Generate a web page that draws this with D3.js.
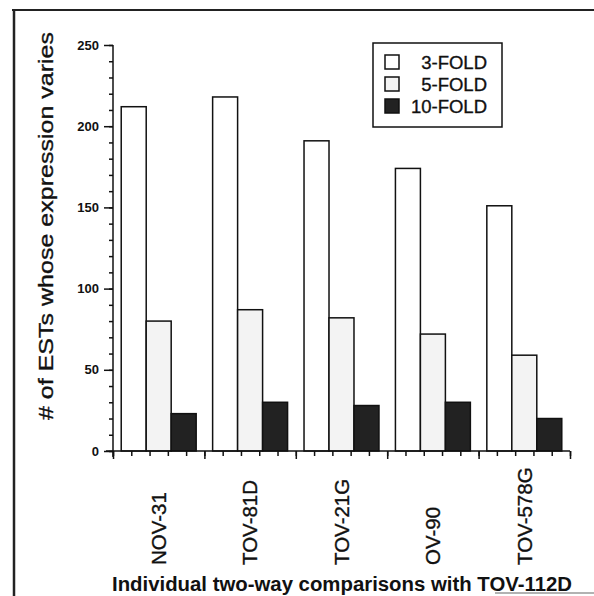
<!DOCTYPE html>
<html>
<head>
    <meta charset="utf-8">
    <title>ESTs fold change</title>
    <script src="https://cdn.jsdelivr.net/npm/d3@7"></script>
    <style>
        body { margin: 0; background: #fff; }
        text { font-family: "Liberation Sans", Arial, sans-serif; fill: #111; }
        text.heavy { stroke: #111; stroke-width: 0.35px; }
        .axis path, .axis line { stroke: #111; stroke-width: 1.5px; }
        .bar { stroke: #111; stroke-width: 1.5px; }
    </style>
</head>
<body>
<script>
    // data
    var cellLines = ["NOV-31", "TOV-81D", "TOV-21G", "OV-90", "TOV-578G"];
    var folds = ["3-FOLD", "5-FOLD", "10-FOLD"];
    var threeFold = [212, 218, 191, 174, 151];
    var fiveFold = [80, 87, 82, 72, 59];
    var tenFold = [23, 30, 28, 30, 20];
    var yTicks = [0, 50, 100, 150, 200, 250];

    var colours = ["#ffffff", "#f3f3f3", "#222222"];
    var series = [threeFold, fiveFold, tenFold];

    var width = 594, height = 596;
    var margin = {top: 45, left: 113, right: 24, bottom: 145};

    var svg = d3.select("body").append("svg")
        .attr("width", width)
        .attr("height", height);

    // frame round the figure
    svg.append("line").attr("x1", 12).attr("x2", 594).attr("y1", 10).attr("y2", 10)
        .attr("stroke", "#222").attr("stroke-width", 2);
    svg.append("line").attr("x1", 14).attr("x2", 14).attr("y1", 10).attr("y2", 596)
        .attr("stroke", "#222").attr("stroke-width", 2.5);
    svg.append("line").attr("x1", 495).attr("x2", 594).attr("y1", 593).attr("y2", 593)
        .attr("stroke", "#999").attr("stroke-width", 1.5);

    var x0 = d3.scaleBand()
        .domain(cellLines)
        .range([margin.left, width - margin.right])
        .paddingInner(0.18)
        .paddingOuter(0.09);

    var x1 = d3.scaleBand()
        .domain(folds)
        .range([0, x0.bandwidth()]);

    var y = d3.scaleLinear()
        .domain([0, 250])
        .range([height - margin.bottom, margin.top]);

    // bars
    var groups = svg.selectAll("g.group")
        .data(cellLines)
        .enter().append("g")
        .attr("class", "group")
        .attr("transform", function (d) { return "translate(" + x0(d) + ",0)"; });

    groups.selectAll("rect")
        .data(function (d, i) {
            return folds.map(function (f, j) { return {fold: f, value: series[j][i], k: j}; });
        })
        .enter().append("rect")
        .attr("class", "bar")
        .attr("x", function (d) { return x1(d.fold); })
        .attr("width", x1.bandwidth())
        .attr("y", function (d) { return y(d.value); })
        .attr("height", function (d) { return y(0) - y(d.value); })
        .attr("fill", function (d) { return colours[d.k]; });

    // y axis: minor ticks every 10, major every 50
    svg.append("g")
        .attr("class", "axis")
        .attr("transform", "translate(" + margin.left + ",0)")
        .call(d3.axisLeft(y).tickValues(d3.range(0, 251, 10)).tickSize(4).tickFormat("").tickSizeOuter(0))
        .select(".domain").remove();

    var yAxis = svg.append("g")
        .attr("class", "axis")
        .attr("transform", "translate(" + margin.left + ",0)")
        .call(d3.axisLeft(y).tickValues(yTicks).tickSize(9).tickPadding(5).tickSizeOuter(0));
    yAxis.select(".domain").remove();
    yAxis.selectAll("text")
        .style("font-size", "13px")
        .style("font-weight", "bold");
    yAxis.append("line")
        .attr("x1", 0).attr("x2", 0)
        .attr("y1", y(250)).attr("y2", y(0) + 6)
        .attr("stroke", "#111").attr("stroke-width", 1.5);

    // x axis: five small ticks per group, long ticks between groups
    var xt = d3.scaleLinear()
        .domain([0, cellLines.length * 5])
        .range([margin.left, margin.left + x0.step() * cellLines.length]);

    var xMinor = svg.append("g")
        .attr("class", "axis")
        .attr("transform", "translate(0," + y(0) + ")")
        .call(d3.axisBottom(xt).tickValues(d3.range(0, 26)).tickSize(5).tickFormat("").tickSizeOuter(0));
    xMinor.select(".domain").remove();

    svg.append("g")
        .attr("class", "axis")
        .attr("transform", "translate(0," + y(0) + ")")
        .call(d3.axisBottom(xt).tickValues(d3.range(0, 26, 5)).tickSize(8).tickFormat("").tickSizeOuter(0))
        .select(".domain").remove();

    svg.append("line")
        .attr("x1", margin.left - 7).attr("x2", xt(25))
        .attr("y1", y(0)).attr("y2", y(0))
        .attr("stroke", "#111").attr("stroke-width", 1.5);

    // rotated category labels
    svg.selectAll("text.cat")
        .data(cellLines)
        .enter().append("text")
        .attr("class", "cat heavy")
        .attr("transform", function (d) {
            return "translate(" + (x0(d) + x0.bandwidth() / 2) + ",565) rotate(-90)";
        })
        .attr("dy", "0.36em")
        .style("font-size", "20.5px")
        .text(function (d) { return d; });

    // axis titles
    svg.append("text")
        .attr("class", "heavy")
        .attr("transform", "translate(53,420) rotate(-90)")
        .attr("textLength", 388)
        .attr("lengthAdjust", "spacingAndGlyphs")
        .style("font-size", "21px")
        .text("# of ESTs whose expression varies");

    svg.append("text")
        .attr("x", 112)
        .attr("y", 591)
        .attr("textLength", 460)
        .attr("lengthAdjust", "spacingAndGlyphs")
        .style("font-size", "20px")
        .style("font-weight", "bold")
        .text("Individual two-way comparisons with TOV-112D");

    // legend
    var legend = svg.append("g").attr("transform", "translate(373,43)");
    legend.append("rect")
        .attr("width", 129).attr("height", 84)
        .attr("fill", "#fff").attr("stroke", "#111").attr("stroke-width", 1.5);

    var item = legend.selectAll("g.item")
        .data(folds)
        .enter().append("g")
        .attr("class", "item")
        .attr("transform", function (d, i) { return "translate(0," + (19 + i * 22) + ")"; });

    item.append("rect")
        .attr("x", 12).attr("y", -7)
        .attr("width", 14).attr("height", 14)
        .attr("fill", function (d, i) { return colours[i]; })
        .attr("stroke", "#111").attr("stroke-width", 1.5);

    item.append("text")
        .attr("class", "heavy")
        .attr("x", 114)
        .attr("dy", "0.36em")
        .attr("text-anchor", "end")
        .style("font-size", "18.5px")
        .text(function (d) { return d; });
</script>
</body>
</html>
